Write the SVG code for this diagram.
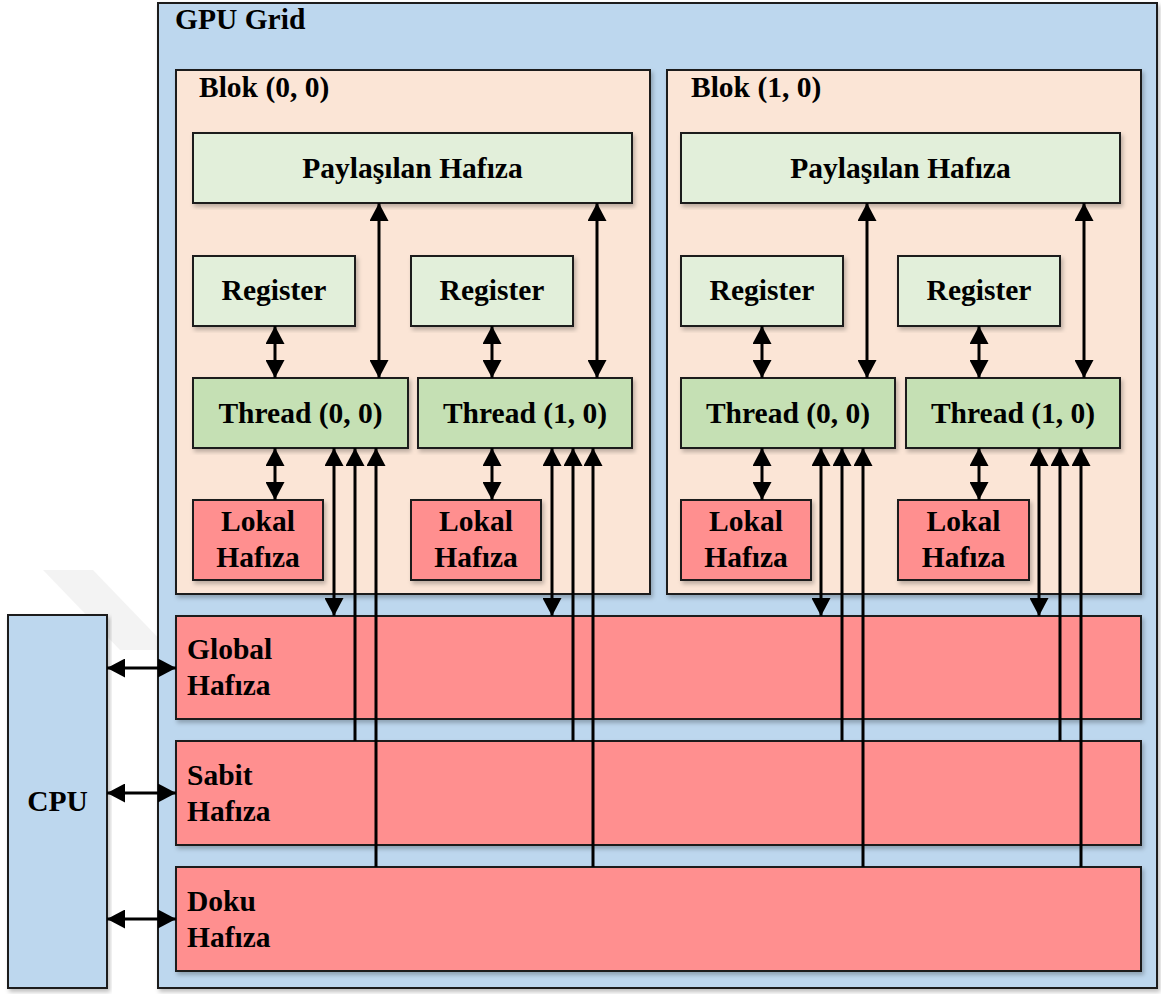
<svg xmlns="http://www.w3.org/2000/svg" width="1161" height="994" viewBox="0 0 1161 994">
<style>
.box{stroke:#1a1a1a;stroke-width:2}
.grid{fill:#BDD7EE}
.blk{fill:#FBE5D6}
.lg{fill:#E2EFDA}
.th{fill:#C5E0B4}
.red{fill:#FF8F8F}
.t{font-family:"Liberation Serif","Times New Roman",serif;font-weight:bold;font-size:29.5px;fill:#000}
.c{text-anchor:middle}
.ln{stroke:#000;stroke-width:3;fill:none}
</style>
<defs>
<filter id="sh" x="-5%" y="-5%" width="110%" height="115%">
<feDropShadow dx="2" dy="3" stdDeviation="2" flood-color="#000" flood-opacity="0.25"/>
</filter>
<marker id="ah" markerUnits="userSpaceOnUse" markerWidth="18" markerHeight="19" viewBox="0 0 18 19" refX="18" refY="9.5" orient="auto-start-reverse">
<path d="M0,0 L18,9.5 L0,19 Z" fill="#000"/>
</marker>
</defs>
<polygon points="43,570 93,570 170,650 120,650" fill="#e8e8e8" opacity="0.5"/>
<g id="gpu-grid">
<rect class="box grid" x="158" y="3" width="999" height="985" filter="url(#sh)"/>
<text class="t" x="175" y="29">GPU Grid</text>
</g>
<g id="cpu">
<rect class="box grid" x="8" y="615" width="99" height="373" filter="url(#sh)"/>
<text class="t c" x="57.5" y="811">CPU</text>
</g>
<g id="blok-0-0">
<rect class="box blk" x="176" y="70" width="474" height="524" filter="url(#sh)"/>
<text class="t" x="199" y="97">Blok (0, 0)</text>
</g>
<g id="blok-1-0">
<rect class="box blk" x="667" y="70" width="474" height="524" filter="url(#sh)"/>
<text class="t" x="691" y="97">Blok (1, 0)</text>
</g>
<g id="shared-0">
<rect class="box lg" x="193" y="133" width="439" height="70" filter="url(#sh)"/>
<text class="t c" x="412.5" y="178">Paylaşılan Hafıza</text>
</g>
<g id="shared-1">
<rect class="box lg" x="681" y="133" width="439" height="70" filter="url(#sh)"/>
<text class="t c" x="900.5" y="178">Paylaşılan Hafıza</text>
</g>
<g id="reg-0-0">
<rect class="box lg" x="193" y="256" width="162" height="70" filter="url(#sh)"/>
<text class="t c" x="274" y="300">Register</text>
</g>
<g id="reg-0-1">
<rect class="box lg" x="411" y="256" width="162" height="70" filter="url(#sh)"/>
<text class="t c" x="492" y="300">Register</text>
</g>
<g id="reg-1-0">
<rect class="box lg" x="681" y="256" width="162" height="70" filter="url(#sh)"/>
<text class="t c" x="762" y="300">Register</text>
</g>
<g id="reg-1-1">
<rect class="box lg" x="898" y="256" width="162" height="70" filter="url(#sh)"/>
<text class="t c" x="979" y="300">Register</text>
</g>
<g id="thread-0-0">
<rect class="box th" x="193" y="378" width="215" height="70" filter="url(#sh)"/>
<text class="t c" x="300.5" y="423">Thread (0, 0)</text>
</g>
<g id="thread-0-1">
<rect class="box th" x="418" y="378" width="214" height="70" filter="url(#sh)"/>
<text class="t c" x="525" y="423">Thread (1, 0)</text>
</g>
<g id="thread-1-0">
<rect class="box th" x="681" y="378" width="214" height="70" filter="url(#sh)"/>
<text class="t c" x="788" y="423">Thread (0, 0)</text>
</g>
<g id="thread-1-1">
<rect class="box th" x="906" y="378" width="214" height="70" filter="url(#sh)"/>
<text class="t c" x="1013" y="423">Thread (1, 0)</text>
</g>
<g id="lokal-0-0">
<rect class="box red" x="193" y="500" width="130" height="80" filter="url(#sh)"/>
<text class="t c" x="258" y="531">Lokal</text>
<text class="t c" x="258" y="567">Hafıza</text>
</g>
<g id="lokal-0-1">
<rect class="box red" x="411" y="500" width="130" height="80" filter="url(#sh)"/>
<text class="t c" x="476" y="531">Lokal</text>
<text class="t c" x="476" y="567">Hafıza</text>
</g>
<g id="lokal-1-0">
<rect class="box red" x="681" y="500" width="130" height="80" filter="url(#sh)"/>
<text class="t c" x="746" y="531">Lokal</text>
<text class="t c" x="746" y="567">Hafıza</text>
</g>
<g id="lokal-1-1">
<rect class="box red" x="898" y="500" width="131" height="80" filter="url(#sh)"/>
<text class="t c" x="963.5" y="531">Lokal</text>
<text class="t c" x="963.5" y="567">Hafıza</text>
</g>
<g id="global">
<rect class="box red" x="176" y="616" width="965" height="103" filter="url(#sh)"/>
<text class="t" x="187" y="659">Global</text>
<text class="t" x="187" y="695">Hafıza</text>
</g>
<g id="sabit">
<rect class="box red" x="176" y="741" width="965" height="104" filter="url(#sh)"/>
<text class="t" x="187" y="785">Sabit</text>
<text class="t" x="187" y="821">Hafıza</text>
</g>
<g id="doku">
<rect class="box red" x="176" y="867" width="965" height="104" filter="url(#sh)"/>
<text class="t" x="187" y="911">Doku</text>
<text class="t" x="187" y="947">Hafıza</text>
</g>
<g id="connectors" class="ln">
<line x1="107" y1="668" x2="176" y2="668" marker-start="url(#ah)" marker-end="url(#ah)"/>
<line x1="107" y1="793" x2="176" y2="793" marker-start="url(#ah)" marker-end="url(#ah)"/>
<line x1="107" y1="919" x2="176" y2="919" marker-start="url(#ah)" marker-end="url(#ah)"/>
<line x1="275" y1="326" x2="275" y2="378" marker-start="url(#ah)" marker-end="url(#ah)"/>
<line x1="275" y1="448" x2="275" y2="500" marker-start="url(#ah)" marker-end="url(#ah)"/>
<line x1="492" y1="326" x2="492" y2="378" marker-start="url(#ah)" marker-end="url(#ah)"/>
<line x1="492" y1="448" x2="492" y2="500" marker-start="url(#ah)" marker-end="url(#ah)"/>
<line x1="379" y1="203" x2="379" y2="378" marker-start="url(#ah)" marker-end="url(#ah)"/>
<line x1="597" y1="203" x2="597" y2="378" marker-start="url(#ah)" marker-end="url(#ah)"/>
<line x1="334" y1="448" x2="334" y2="616" marker-start="url(#ah)" marker-end="url(#ah)"/>
<line x1="355" y1="741" x2="355" y2="448" marker-end="url(#ah)"/>
<line x1="376" y1="867" x2="376" y2="448" marker-end="url(#ah)"/>
<line x1="552" y1="448" x2="552" y2="616" marker-start="url(#ah)" marker-end="url(#ah)"/>
<line x1="573" y1="741" x2="573" y2="448" marker-end="url(#ah)"/>
<line x1="593" y1="867" x2="593" y2="448" marker-end="url(#ah)"/>
<line x1="762" y1="326" x2="762" y2="378" marker-start="url(#ah)" marker-end="url(#ah)"/>
<line x1="762" y1="448" x2="762" y2="500" marker-start="url(#ah)" marker-end="url(#ah)"/>
<line x1="979" y1="326" x2="979" y2="378" marker-start="url(#ah)" marker-end="url(#ah)"/>
<line x1="979" y1="448" x2="979" y2="500" marker-start="url(#ah)" marker-end="url(#ah)"/>
<line x1="867" y1="203" x2="867" y2="378" marker-start="url(#ah)" marker-end="url(#ah)"/>
<line x1="1084" y1="203" x2="1084" y2="378" marker-start="url(#ah)" marker-end="url(#ah)"/>
<line x1="821" y1="448" x2="821" y2="616" marker-start="url(#ah)" marker-end="url(#ah)"/>
<line x1="842" y1="741" x2="842" y2="448" marker-end="url(#ah)"/>
<line x1="863" y1="867" x2="863" y2="448" marker-end="url(#ah)"/>
<line x1="1039" y1="448" x2="1039" y2="616" marker-start="url(#ah)" marker-end="url(#ah)"/>
<line x1="1060" y1="741" x2="1060" y2="448" marker-end="url(#ah)"/>
<line x1="1081" y1="867" x2="1081" y2="448" marker-end="url(#ah)"/>
</g>
</svg>
